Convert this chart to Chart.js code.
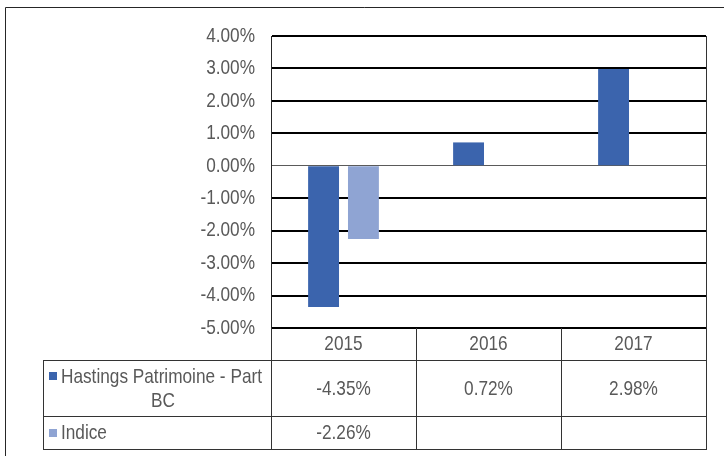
<!DOCTYPE html>
<html>
<head>
<meta charset="utf-8">
<script src="https://cdn.jsdelivr.net/npm/chart.js@4"></script>
<style>
  html, body { margin: 0; padding: 0; background: #fff; }
  #wrap { width: 724px; height: 456px; }
</style>
</head>
<body>
<div id="wrap"><canvas id="chart" width="724" height="456"></canvas></div>
<script>
// Data
const years = ['2015', '2016', '2017'];
const seriesNames = ['Hastings Patrimoine - Part BC', 'Indice'];
const hastingsValues = [-4.35, 0.72, 2.98];
const indiceValues = [-2.26, null, null];
const yTicks = [4, 3, 2, 1, 0, -1, -2, -3, -4, -5];

const FONT = "'Liberation Sans', Arial, sans-serif";
const FONT_SIZE = 21;
const NARROW = 0.82; // squeeze Arial-like glyphs to look like Arial Narrow
const TEXT_COLOR = '#595959';
const colors = ['#3B64AD', '#8FA4D3'];

// Format a percent value like Excel
function pct(v) {
    return v.toFixed(2) + '%';
}

// Condensed text: every fillText during the chart draw is squeezed horizontally
const narrowText = {
    id: 'narrowText',
    beforeDraw(chart) {
        const ctx = chart.ctx;
        if (ctx._origFillText) return;
        ctx._origFillText = ctx.fillText;
        ctx.fillText = function(text, x, y) {
            this.save();
            this.translate(x, y);
            this.scale(NARROW, 1);
            this._origFillText(text, 0, 0);
            this.restore();
        };
    },
    afterDraw(chart) {
        const ctx = chart.ctx;
        if (!ctx._origFillText) return;
        ctx.fillText = ctx._origFillText;
        delete ctx._origFillText;
    }
};

// Draws the frame, the plot right edge and the data table below the plot
const dataTable = {
    id: 'dataTable',
    afterDatasetsDraw(chart) {
        const ctx = chart.ctx;
        const area = chart.chartArea;
        const xs = chart.scales.x;
        const half = (xs.getPixelForValue(1) - xs.getPixelForValue(0)) / 2;
        const edges = years.map((_, i) => Math.round(xs.getPixelForValue(i) - half));
        edges.push(Math.round(xs.getPixelForValue(years.length - 1) + half));

        const tableLeft = 43;
        const headBottom = Math.round(xs.bottom);
        const rowHeights = [56, 33];
        const rowTops = [headBottom, headBottom + rowHeights[0]];
        const tableBottom = rowTops[1] + rowHeights[1];
        const right = edges[edges.length - 1];

        ctx.save();

        // outer frame (cut by the picture edge)
        ctx.strokeStyle = '#262626';
        ctx.lineWidth = 1;
        ctx.beginPath();
        ctx.moveTo(5.5, 456);
        ctx.lineTo(5.5, 7.5);
        ctx.lineTo(724, 7.5);
        ctx.stroke();

        // table lines
        ctx.strokeStyle = '#333';
        ctx.beginPath();
        ctx.moveTo(right + 0.5, area.top);
        ctx.lineTo(right + 0.5, tableBottom);
        edges.slice(0, -1).forEach(x => {
            ctx.moveTo(x + 0.5, area.bottom);
            ctx.lineTo(x + 0.5, tableBottom);
        });
        ctx.moveTo(tableLeft + 0.5, headBottom);
        ctx.lineTo(tableLeft + 0.5, tableBottom);
        [headBottom, rowTops[1], tableBottom].forEach(y => {
            ctx.moveTo(tableLeft, y + 0.5);
            ctx.lineTo(right + 1, y + 0.5);
        });
        ctx.stroke();

        // table text
        ctx.font = FONT_SIZE + 'px ' + FONT;
        ctx.fillStyle = TEXT_COLOR;
        ctx.textBaseline = 'middle';
        const rows = [hastingsValues, indiceValues];
        rows.forEach((vals, r) => {
            const top = rowTops[r];
            const mid = top + rowHeights[r] / 2;
            vals.forEach((v, i) => {
                if (v === null) return;
                ctx.textAlign = 'center';
                ctx.fillText(pct(v), (edges[i] + edges[i + 1]) / 2, mid + 1);
            });

            // series name with legend key, wrapped in the first column
            const keyX = tableLeft + 6;
            const textX = keyX + 12;
            const maxW = edges[0] - 3 - textX;
            const words = seriesNames[r].split(' ');
            const lines = [];
            let line = '';
            words.forEach(w => {
                const test = line ? line + ' ' + w : w;
                if (ctx.measureText(test).width * NARROW > maxW && line) {
                    lines.push(line);
                    line = w;
                } else {
                    line = test;
                }
            });
            lines.push(line);

            const lh = 24;
            const cx = (tableLeft + edges[0]) / 2;
            let y = mid - (lines.length - 1) * lh / 2;
            lines.forEach((l, k) => {
                if (k === 0) {
                    ctx.fillStyle = colors[r];
                    ctx.fillRect(keyX, Math.round(y) - 4, 8, 8);
                    ctx.fillStyle = TEXT_COLOR;
                    ctx.textAlign = 'left';
                    ctx.fillText(l, textX, y + 1);
                } else {
                    ctx.textAlign = 'center';
                    ctx.fillText(l, cx + 6, y + 1);
                }
                y += lh;
            });
        });

        ctx.restore();
    }
};

const chart = new Chart(document.getElementById('chart'), {
    type: 'bar',
    data: {
        labels: years,
        datasets: [
            { label: seriesNames[0], data: hastingsValues, backgroundColor: colors[0] },
            { label: seriesNames[1], data: indiceValues, backgroundColor: colors[1] }
        ]
    },
    options: {
        responsive: false,
        animation: false,
        events: [],
        layout: { padding: { left: 0, top: 36, right: 18, bottom: 96 } },
        datasets: {
            bar: { categoryPercentage: 0.55, barPercentage: 0.775, borderWidth: 0 }
        },
        plugins: {
            legend: { display: false },
            tooltip: { enabled: false }
        },
        scales: {
            x: {
                grid: { display: false, drawTicks: false },
                border: { display: false },
                ticks: {
                    color: TEXT_COLOR,
                    font: { family: FONT, size: FONT_SIZE },
                    padding: 4
                },
                afterFit(scale) { scale.height = 32; }
            },
            y: {
                min: -5,
                max: 4,
                afterBuildTicks(scale) { scale.ticks = yTicks.map(v => ({ value: v })); },
                grid: {
                    drawTicks: false,
                    color: c => c.tick && c.tick.value === 0 ? '#5a5a5a' : '#000',
                    lineWidth: c => c.tick && c.tick.value === 0 ? 1 : 2
                },
                border: { display: true, color: '#262626', width: 1 },
                ticks: {
                    color: TEXT_COLOR,
                    font: { family: FONT, size: FONT_SIZE },
                    padding: 16,
                    callback: v => pct(v)
                },
                afterFit(scale) { scale.width = 271; }
            }
        }
    },
    plugins: [narrowText, dataTable]
});
</script>
</body>
</html>
